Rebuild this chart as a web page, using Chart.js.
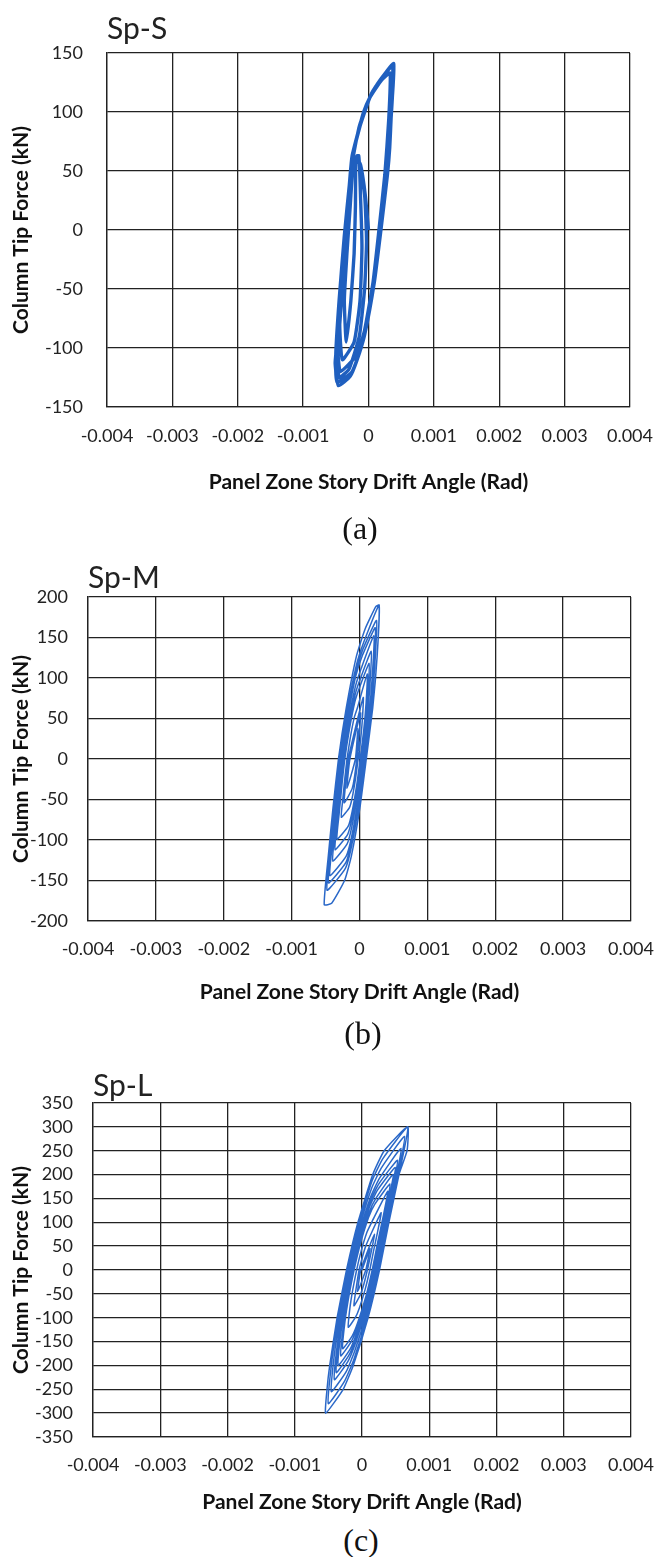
<!DOCTYPE html>
<html>
<head>
<meta charset="utf-8">
<script src="https://cdn.jsdelivr.net/npm/chart.js@4.4.1/dist/chart.umd.min.js"></script>
<style>
  body { margin: 0; width: 671px; height: 1557px; background: #fff; position: relative; overflow: hidden; }
  .panel { position: absolute; left: 0; width: 671px; }
  .cap { position: absolute; font-family: "Liberation Serif", "DejaVu Serif", serif; font-size: 32px; line-height: 32px; color: #111; transform: translateX(-50%); }
</style>
</head>
<body>
<div class="panel" style="top:0; height:500px"><canvas id="chartS"></canvas></div>
<div class="panel" style="top:540px; height:470px"><canvas id="chartM"></canvas></div>
<div class="panel" style="top:1045px; height:475px"><canvas id="chartL"></canvas></div>
<div class="cap" style="left:360px; top:512px">(a)</div>
<div class="cap" style="left:363px; top:1017px">(b)</div>
<div class="cap" style="left:361px; top:1524px">(c)</div>

<script>
// tick labels
const driftTicks = ['-0.004', '-0.003', '-0.002', '-0.001', '0', '0.001', '0.002', '0.003', '0.004'];
const spsForceTicks = ['-150', '-100', '-50', '0', '50', '100', '150'];
const spmForceTicks = ['-200', '-150', '-100', '-50', '0', '50', '100', '150', '200'];
const splForceTicks = ['-350', '-300', '-250', '-200', '-150', '-100', '-50', '0', '50', '100', '150', '200', '250', '300', '350'];

// hysteresis loops: [drift (rad), force (kN)]
const spsLoop = [
    [0, 0],
    [-0.5e-4, 30], [-1.2e-4, 55], [-1.9e-4, 62],
    [-2.0e-4, 20], [-2.2e-4, -20], [-2.7e-4, -60], [-3.4e-4, -95],
    [-3.7e-4, -60], [-3.3e-4, -20], [-2.8e-4, 20], [-2.4e-4, 50], [-1.5e-4, 63],
    [-1.2e-4, 25], [-1.0e-4, -15], [-1.3e-4, -60], [-2.2e-4, -95], [-4.0e-4, -110],
    [-4.4e-4, -80], [-3.9e-4, -30], [-3.2e-4, 15], [-2.6e-4, 50], [-1.7e-4, 63],
    [-0.6e-4, 30], [-0.3e-4, -10], [-0.6e-4, -50], [-1.4e-4, -90], [-3.0e-4, -118], [-4.5e-4, -125],
    [-4.8e-4, -95], [-4.1e-4, -40], [-3.4e-4, 10], [-2.8e-4, 45], [-2.4e-4, 60], [-1.4e-4, 88], [0.2e-4, 112], [2.0e-4, 127], [3.3e-4, 133],
    [3.1e-4, 94], [2.5e-4, 47], [1.6e-4, 0], [0.7e-4, -44], [-0.6e-4, -85], [-1.8e-4, -106], [-4.3e-4, -120],
    [-4.7e-4, -100], [-4.4e-4, -80], [-3.9e-4, -40], [-3.3e-4, 0], [-2.7e-4, 45], [-2.4e-4, 62], [-1.2e-4, 90], [0.2e-4, 112], [1.8e-4, 127], [3.85e-4, 141],
    [3.5e-4, 100], [3.25e-4, 70], [2.9e-4, 47], [1.9e-4, 0], [0.9e-4, -44], [-0.6e-4, -89], [-1.8e-4, -111], [-2.8e-4, -124], [-4.6e-4, -132],
    [-5.1e-4, -113], [-4.9e-4, -100], [-4.25e-4, -50], [-3.5e-4, 0], [-2.8e-4, 47], [-2.5e-4, 63], [-1.5e-4, 85], [-0.75e-4, 100], [0.25e-4, 113], [1.75e-4, 127], [3.7e-4, 139],
    [3.3e-4, 100], [2.8e-4, 50], [1.8e-4, 0], [0.6e-4, -50], [-0.9e-4, -95], [-2.5e-4, -120], [-4.8e-4, -129],
    [-5.0e-4, -105], [-4.5e-4, -60], [-3.7e-4, -5], [-2.9e-4, 40], [-2.35e-4, 65], [-1.3e-4, 88], [0.4e-4, 115], [2.2e-4, 130], [3.8e-4, 140],
    [3.4e-4, 90], [2.6e-4, 40], [1.6e-4, 0]
];

const spmLoop = [
    [0, 0],
    [-0.22e-4, 38], [-0.6e-4, 0], [-1.84e-4, -36], [-1.42e-4, 0],
    [0.17e-4, 57], [-0.4e-4, 0], [-1.06e-4, -36], [-2.26e-4, -54], [-1.63e-4, 0], [-0.84e-4, 30],
    [0.56e-4, 76], [0.44e-4, 51], [0.18e-4, 25], [-0.2e-4, 0], [-0.58e-4, -24], [-1.08e-4, -48], [-1.48e-4, -60], [-2.68e-4, -72],
    [-2.44e-4, -48], [-2.16e-4, -24], [-1.84e-4, 0], [-1.38e-4, 25], [-0.78e-4, 51], [-0.28e-4, 64],
    [1.15e-4, 105], [0.98e-4, 70], [0.62e-4, 35], [0.1e-4, 0], [-0.42e-4, -33], [-1.11e-4, -66], [-1.66e-4, -83], [-3.31e-4, -99],
    [-2.98e-4, -66], [-2.6e-4, -33], [-2.16e-4, 0], [-1.52e-4, 35], [-0.7e-4, 70], [-0.01e-4, 88],
    [1.42e-4, 118], [1.23e-4, 79], [0.83e-4, 39], [0.24e-4, 0], [-0.34e-4, -37], [-1.12e-4, -74], [-1.74e-4, -93], [-3.6e-4, -112],
    [-3.23e-4, -74], [-2.8e-4, -37], [-2.3e-4, 0], [-1.59e-4, 39], [-0.66e-4, 79], [0.12e-4, 99],
    [1.73e-4, 133], [1.52e-4, 89], [1.07e-4, 44], [0.4e-4, 0], [-0.26e-4, -42], [-1.14e-4, -84], [-1.84e-4, -105], [-3.94e-4, -126],
    [-3.52e-4, -84], [-3.03e-4, -42], [-2.47e-4, 0], [-1.67e-4, 44], [-0.62e-4, 89], [0.26e-4, 112],
    [2.12e-4, 152], [1.88e-4, 102], [1.36e-4, 50], [0.6e-4, 0], [-0.15e-4, -48], [-1.16e-4, -96], [-1.96e-4, -120], [-4.36e-4, -144],
    [-3.88e-4, -96], [-3.32e-4, -48], [-2.68e-4, 0], [-1.76e-4, 50], [-0.56e-4, 102], [0.44e-4, 128],
    [2.32e-4, 162], [2.06e-4, 108], [1.51e-4, 54], [0.7e-4, 0], [-0.1e-4, -51], [-1.17e-4, -102], [-2.02e-4, -128], [-4.57e-4, -153],
    [-4.06e-4, -102], [-3.47e-4, -51], [-2.79e-4, 0], [-1.81e-4, 54], [-0.53e-4, 108], [0.53e-4, 136],
    [2.51e-4, 171], [2.24e-4, 114], [1.66e-4, 57], [0.8e-4, 0], [-0.05e-4, -54], [-1.18e-4, -108], [-2.08e-4, -135], [-4.78e-4, -162],
    [-4.24e-4, -108], [-3.61e-4, -54], [-2.89e-4, 0], [-1.86e-4, 57], [-0.51e-4, 114], [0.62e-4, 144],
    [2.9e-4, 190], [2.6e-4, 127], [1.95e-4, 63], [1.0e-4, 0], [0.06e-4, -60], [-1.2e-4, -120], [-2.2e-4, -150], [-4.1e-4, -178], [-5.2e-4, -180],
    [-4.6e-4, -120], [-3.9e-4, -60], [-3.1e-4, 0], [-1.95e-4, 63], [-0.45e-4, 127], [0.8e-4, 160], [2.4e-4, 188], [2.9e-4, 190],
    [2.6e-4, 127], [1.95e-4, 63], [1.0e-4, 0]
];

const splLoop = [
    [0, 0],
    [1.19e-4, 45], [0.56e-4, 0], [-0.64e-4, -45], [-0.18e-4, 0],
    [1.85e-4, 75], [0.8e-4, 0], [-0.18e-4, -50], [-1.2e-4, -75], [-0.43e-4, 0], [0.55e-4, 50],
    [2.84e-4, 120], [2.32e-4, 80], [1.72e-4, 40], [1.16e-4, 0], [0.48e-4, -40], [-0.4e-4, -80], [-1.0e-4, -100], [-2.04e-4, -120],
    [-1.8e-4, -80], [-1.36e-4, -40], [-0.8e-4, 0], [-0.12e-4, 40], [0.76e-4, 80], [1.44e-4, 100],
    [3.83e-4, 165], [3.12e-4, 110], [2.29e-4, 55], [1.52e-4, 0], [0.59e-4, -55], [-0.63e-4, -110], [-1.45e-4, -138], [-2.88e-4, -165],
    [-2.55e-4, -110], [-1.95e-4, -55], [-1.18e-4, 0], [-0.24e-4, 55], [0.97e-4, 110], [1.91e-4, 138],
    [4.16e-4, 180], [3.38e-4, 120], [2.48e-4, 60], [1.64e-4, 0], [0.62e-4, -60], [-0.7e-4, -120], [-1.6e-4, -150], [-3.16e-4, -180],
    [-2.8e-4, -120], [-2.14e-4, -60], [-1.3e-4, 0], [-0.28e-4, 60], [1.04e-4, 120], [2.06e-4, 150],
    [4.62e-4, 200], [3.75e-4, 133], [2.75e-4, 67], [1.81e-4, 0], [0.67e-4, -67], [-0.81e-4, -133], [-1.81e-4, -167], [-3.55e-4, -200],
    [-3.15e-4, -133], [-2.41e-4, -67], [-1.48e-4, 0], [-0.34e-4, 67], [1.14e-4, 133], [2.28e-4, 167],
    [4.95e-4, 215], [4.02e-4, 143], [2.94e-4, 72], [1.93e-4, 0], [0.7e-4, -72], [-0.88e-4, -143], [-1.96e-4, -179], [-3.83e-4, -215],
    [-3.4e-4, -143], [-2.61e-4, -72], [-1.6e-4, 0], [-0.38e-4, 72], [1.21e-4, 143], [2.43e-4, 179],
    [5.28e-4, 230], [4.28e-4, 153], [3.13e-4, 77], [2.05e-4, 0], [0.74e-4, -77], [-0.96e-4, -153], [-2.11e-4, -192], [-4.11e-4, -230],
    [-3.65e-4, -153], [-2.8e-4, -77], [-1.73e-4, 0], [-0.42e-4, 77], [1.28e-4, 153], [2.59e-4, 192],
    [5.81e-4, 255], [4.71e-4, 170], [3.43e-4, 85], [2.24e-4, 0], [0.8e-4, -85], [-1.08e-4, -170], [-2.35e-4, -213], [-4.56e-4, -255],
    [-4.05e-4, -170], [-3.12e-4, -85], [-1.93e-4, 0], [-0.48e-4, 85], [1.39e-4, 170], [2.84e-4, 213],
    [6.34e-4, 280], [5.13e-4, 187], [3.73e-4, 93], [2.43e-4, 0], [0.85e-4, -93], [-1.2e-4, -187], [-2.59e-4, -233], [-5.01e-4, -280],
    [-4.45e-4, -187], [-3.43e-4, -93], [-2.13e-4, 0], [-0.54e-4, 93], [1.5e-4, 187], [3.08e-4, 233],
    [6.8e-4, 300], [6.7e-4, 250], [5.5e-4, 200], [4.0e-4, 100], [2.6e-4, 0], [0.9e-4, -100], [-1.3e-4, -200], [-2.8e-4, -250], [-5.4e-4, -300],
    [-5.2e-4, -250], [-4.8e-4, -200], [-3.7e-4, -100], [-2.3e-4, 0], [-0.6e-4, 100], [1.6e-4, 200], [3.3e-4, 250], [6.8e-4, 300],
    [5.5e-4, 200], [4.0e-4, 100], [2.6e-4, 0]
];

const INK = '#222';
const TICK_FONT = { family: 'Lato', size: 18 };
const AXIS_FONT = { family: 'Lato', size: 21, weight: 'bold' };

function makeChart(id, title, loop, forceTicks, g) {
    const ctx = document.getElementById(id).getContext('2d');
    const yMin = Number(forceTicks[0]);
    const yMax = Number(forceTicks[forceTicks.length - 1]);
    return new Chart(ctx, {
        type: 'scatter',
        data: {
            datasets: [{
                data: loop.map(p => ({ x: p[0], y: p[1] })),
                showLine: true,
                pointRadius: 0,
                borderColor: g.color,
                borderWidth: g.lineWidth,
                tension: 0.15
            }]
        },
        options: {
            responsive: true,
            maintainAspectRatio: false,
            animation: false,
            layout: { padding: { left: 0, right: g.padRight, top: 0, bottom: 0 } },
            plugins: {
                legend: { display: false },
                tooltip: { enabled: false },
                title: {
                    display: true,
                    text: title,
                    align: 'start',
                    fullSize: false,
                    color: INK,
                    font: { family: 'Lato', size: 30, weight: 'normal', lineHeight: 1 },
                    padding: { top: g.titleTop, bottom: g.titleBottom }
                }
            },
            scales: {
                x: {
                    type: 'linear',
                    min: -0.004,
                    max: 0.004,
                    afterFit: s => { s.height = g.xHeight; },
                    ticks: {
                        stepSize: 0.001,
                        autoSkip: false,
                        maxRotation: 0,
                        padding: g.xTickPad,
                        color: INK,
                        font: TICK_FONT,
                        callback: (v, i) => driftTicks[i]
                    },
                    grid: { color: INK, lineWidth: 1.3, drawTicks: false },
                    border: { color: INK, width: 1.3 },
                    title: {
                        display: true,
                        text: 'Panel Zone Story Drift Angle (Rad)',
                        color: '#111',
                        font: AXIS_FONT,
                        padding: { top: 5, bottom: 5 }
                    }
                },
                y: {
                    type: 'linear',
                    min: yMin,
                    max: yMax,
                    afterFit: s => { s.width = g.yWidth; },
                    ticks: {
                        stepSize: 50,
                        autoSkip: false,
                        padding: g.yTickPad,
                        color: INK,
                        font: TICK_FONT,
                        callback: (v, i) => forceTicks[i]
                    },
                    grid: { color: INK, lineWidth: 1.3, drawTicks: false },
                    border: { color: INK, width: 1.3 },
                    title: {
                        display: true,
                        text: 'Column Tip Force (kN)',
                        color: '#111',
                        font: AXIS_FONT,
                        padding: { top: 9, bottom: 9 }
                    }
                }
            }
        }
    });
}

document.addEventListener('DOMContentLoaded', () => {
    makeChart('chartS', 'Sp-S', spsLoop, spsForceTicks, {
        yWidth: 107, xHeight: 93, padRight: 36, titleTop: 14, titleBottom: 9,
        xTickPad: 18, yTickPad: 24, lineWidth: 3.4, color: '#1f5fbf'
    });
    makeChart('chartM', 'Sp-M', spmLoop, spmForceTicks, {
        yWidth: 88, xHeight: 89, padRight: 32, titleTop: 23, titleBottom: 4,
        xTickPad: 17, yTickPad: 20, lineWidth: 1.5, color: '#2a68c8'
    });
    makeChart('chartL', 'Sp-L', splLoop, splForceTicks, {
        yWidth: 93, xHeight: 83, padRight: 26, titleTop: 26, titleBottom: 2,
        xTickPad: 17, yTickPad: 20, lineWidth: 1.5, color: '#2a68c8'
    });
});
</script>
</body>
</html>
